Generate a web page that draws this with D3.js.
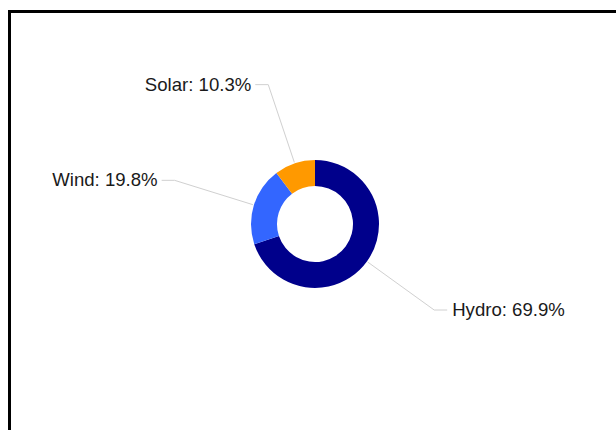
<!DOCTYPE html>
<html>
<head>
<meta charset="utf-8">
<script src="https://cdn.jsdelivr.net/npm/d3@7"></script>
<style>
  html, body { margin: 0; padding: 0; background: #fff; }
  svg { display: block; }
</style>
</head>
<body>
<svg id="chart" width="616" height="430"></svg>
<script>
// Energy mix by source
const categories = ["Hydro", "Wind", "Solar"];
const shares = [69.9, 19.8, 10.3];
const colors = ["#00008b", "#3366ff", "#ff9900"];

const width = 616, height = 430;
const cx = 315, cy = 224;
const outerR = 64, innerR = 38, elbowR = 147;

const svg = d3.select("#chart");

// frame
svg.append("rect")
  .attr("x", 9.5).attr("y", 11.5)
  .attr("width", 700).attr("height", 500)
  .attr("fill", "#fff")
  .attr("stroke", "#000")
  .attr("stroke-width", 3);

const data = categories.map((c, i) => ({ name: c, value: shares[i], color: colors[i] }));

const pie = d3.pie().sort(null).value(d => d.value);
const arcs = pie(data);

const arc = d3.arc().innerRadius(innerR).outerRadius(outerR);
const edgeArc = d3.arc().innerRadius(outerR + 1).outerRadius(outerR + 1);
const elbowArc = d3.arc().innerRadius(elbowR).outerRadius(elbowR);

const g = svg.append("g").attr("transform", `translate(${cx},${cy})`);

g.selectAll("path.slice")
  .data(arcs)
  .join("path")
  .attr("class", "slice")
  .attr("d", arc)
  .attr("fill", d => d.data.color);

const midAngle = d => (d.startAngle + d.endAngle) / 2;
const side = d => (midAngle(d) < Math.PI ? 1 : -1);

// leader lines
g.selectAll("polyline")
  .data(arcs)
  .join("polyline")
  .attr("fill", "none")
  .attr("stroke", "#d0d0d0")
  .attr("stroke-width", 1)
  .attr("points", d => {
    const a = edgeArc.centroid(d);
    const b = elbowArc.centroid(d);
    const c = [b[0] + side(d) * 13, b[1]];
    return [a, b, c].map(p => p.join(",")).join(" ");
  });

// labels
g.selectAll("text.label")
  .data(arcs)
  .join("text")
  .attr("class", "label")
  .attr("x", d => elbowArc.centroid(d)[0] + side(d) * (side(d) > 0 ? 18 : 17))
  .attr("y", d => elbowArc.centroid(d)[1] - 0.5)
  .attr("dy", "0.35em")
  .attr("text-anchor", d => (side(d) > 0 ? "start" : "end"))
  .attr("font-family", "'Liberation Sans', Arial, sans-serif")
  .attr("font-size", 18.6)
  .attr("fill", "#1a1a1a")
  .text(d => `${d.data.name}: ${d.data.value.toFixed(1)}%`);
</script>
</body>
</html>
